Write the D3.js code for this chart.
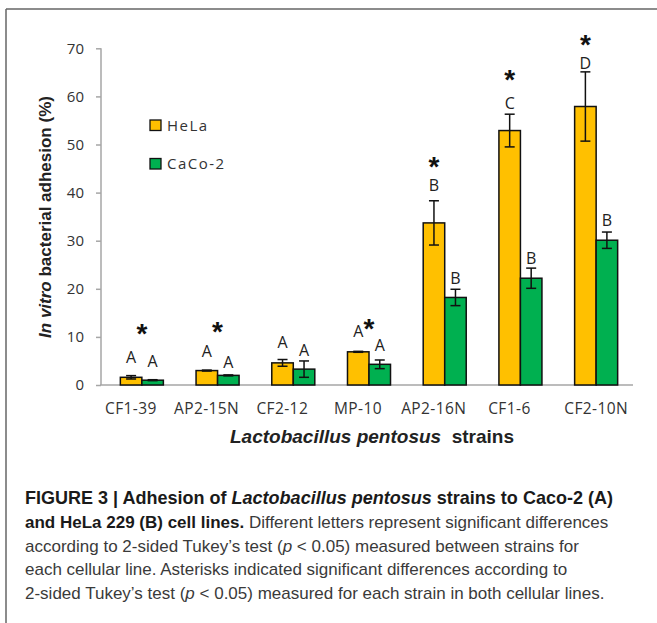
<!DOCTYPE html>
<html>
<head>
<meta charset="utf-8">
<script src="https://cdn.jsdelivr.net/npm/d3@7"></script>
<style>
body { margin: 0; background: #fff; }
svg { display: block; }
</style>
</head>
<body>
<script>
//chart data
var strains = ["CF1-39", "AP2-15N", "CF2-12", "MP-10", "AP2-16N", "CF1-6", "CF2-10N"];
var seriesNames = ["HeLa", "CaCo-2"];
var helaMean = [1.6, 3.0, 4.6, 6.9, 33.7, 52.9, 57.9];
var helaErr = [0.35, 0.1, 0.7, 0.1, 4.6, 3.4, 7.2];
var cacoMean = [1.0, 2.0, 3.3, 4.3, 18.2, 22.2, 30.1];
var cacoErr = [0.1, 0.1, 1.7, 0.9, 1.7, 2.1, 1.7];
var helaLetters = ["A", "A", "A", "A", "B", "C", "D"];
var cacoLetters = ["A", "A", "A", "A", "B", "B", "B"];
var helaLetterLevel = [5.7, 7.1, 8.8, 11.1, 41.6, 58.6, 66.9]; //letter centre, in % units
var cacoLetterLevel = [5.0, 4.7, 7.3, 8.3, 22.2, 26.3, 34.3];
var starLevel = [12.0, 12.5, null, 13.2, 46.8, 64.9, 72.1]; //asterisk centre, in % units
var starOver = ["pair", "pair", null, "pair", "HeLa", "HeLa", "HeLa"];
var yTicks = [0, 10, 20, 30, 40, 50, 60, 70];

(function () {
	var width = 657, height = 623;
	var colors = { "HeLa": "#FFC000", "CaCo-2": "#00B050" };
	var tickFont = "'Open Sans', sans-serif";
	var titleFont = "'Liberation Sans', Arial, sans-serif";

	var svg = d3.select("body").append("svg")
		.attr("width", width)
		.attr("height", height);

	//frame lines (top and left)
	svg.append("line").attr("x1", 6).attr("x2", width).attr("y1", 9).attr("y2", 9)
		.attr("stroke", "#666").attr("stroke-width", 1.5);
	svg.append("line").attr("x1", 6).attr("x2", 6).attr("y1", 9).attr("y2", height)
		.attr("stroke", "#666").attr("stroke-width", 1.5);

	//scales
	var y = d3.scaleLinear().domain([0, 70]).range([385, 48.3]);
	var x = d3.scaleBand().domain(strains).range([104, 634]).padding(0);
	var xs = d3.scaleBand().domain(seriesNames).range([0, x.bandwidth()]).paddingInner(0).paddingOuter(0.76);

	//y axis
	var yAxis = svg.append("g")
		.attr("transform", "translate(101,0)")
		.call(d3.axisLeft(y).tickValues(yTicks).tickSize(5).tickPadding(12));
	yAxis.select(".domain").attr("stroke", "#a6a6a6").attr("stroke-width", 1.5).attr("d", "M0,48.3V385");
	yAxis.selectAll(".tick line").attr("stroke", "#a6a6a6").attr("stroke-width", 1.5);
	yAxis.selectAll(".tick text")
		.attr("font-family", tickFont).attr("font-size", 15).attr("fill", "#333");

	//x axis baseline
	svg.append("line")
		.attr("x1", 100).attr("x2", 633)
		.attr("y1", y(0)).attr("y2", y(0))
		.attr("stroke", "#a6a6a6").attr("stroke-width", 1.5);

	//category labels (excel centred all but the last one a bit to the left)
	svg.selectAll(".cat")
		.data(strains)
		.enter()
		.append("text")
		.attr("class", "cat")
		.attr("x", function (d) { return x(d) + x.bandwidth() / 2; })
		.attr("dx", function (d, i) { return i < strains.length - 1 ? -11 : 0; })
		.attr("y", 414)
		.attr("text-anchor", "middle")
		.attr("font-family", tickFont)
		.attr("font-size", 15.5)
		.attr("letter-spacing", 0.4)
		.attr("fill", "#333")
		.text(function (d) { return d; });

	//build rows for bars
	var rows = [];
	strains.forEach(function (s, i) {
		rows.push({ strain: s, series: "HeLa", mean: helaMean[i], err: helaErr[i], letter: helaLetters[i], level: helaLetterLevel[i] });
		rows.push({ strain: s, series: "CaCo-2", mean: cacoMean[i], err: cacoErr[i], letter: cacoLetters[i], level: cacoLetterLevel[i] });
	});
	function barX(d) { return x(d.strain) + xs(d.series); }
	function barMid(d) { return barX(d) + xs.bandwidth() / 2; }

	svg.selectAll(".bar")
		.data(rows)
		.enter()
		.append("rect")
		.attr("class", "bar")
		.attr("x", barX)
		.attr("width", xs.bandwidth())
		.attr("y", function (d) { return y(d.mean); })
		.attr("height", function (d) { return y(0) - y(d.mean); })
		.attr("fill", function (d) { return colors[d.series]; })
		.attr("stroke", "#111")
		.attr("stroke-width", 1.5);

	//error bars
	var errG = svg.selectAll(".err")
		.data(rows)
		.enter()
		.append("g")
		.attr("class", "err")
		.attr("stroke", "#111")
		.attr("stroke-width", 1.5);
	errG.append("line")
		.attr("x1", barMid).attr("x2", barMid)
		.attr("y1", function (d) { return y(d.mean + d.err); })
		.attr("y2", function (d) { return y(d.mean - d.err); });
	errG.append("line")
		.attr("x1", function (d) { return barMid(d) - 5; })
		.attr("x2", function (d) { return barMid(d) + 5; })
		.attr("y1", function (d) { return y(d.mean + d.err); })
		.attr("y2", function (d) { return y(d.mean + d.err); });
	errG.append("line")
		.attr("x1", function (d) { return barMid(d) - 5; })
		.attr("x2", function (d) { return barMid(d) + 5; })
		.attr("y1", function (d) { return y(d.mean - d.err); })
		.attr("y2", function (d) { return y(d.mean - d.err); });

	//letters
	svg.selectAll(".letter")
		.data(rows)
		.enter()
		.append("text")
		.attr("class", "letter")
		.attr("x", barMid)
		.attr("y", function (d) { return y(d.level) + 5.8; })
		.attr("text-anchor", "middle")
		.attr("font-family", tickFont)
		.attr("font-size", 16)
		.attr("fill", "#222")
		.text(function (d) { return d.letter; });

	//asterisks
	var stars = strains.map(function (s, i) { return { strain: s, level: starLevel[i], over: starOver[i] }; })
		.filter(function (d) { return d.level !== null; });
	svg.selectAll(".star")
		.data(stars)
		.enter()
		.append("text")
		.attr("class", "star")
		.attr("x", function (d) {
			if (d.over === "HeLa") return x(d.strain) + xs("HeLa") + xs.bandwidth() / 2;
			return x(d.strain) + x.bandwidth() / 2;
		})
		.attr("y", function (d) { return y(d.level) + 16; })
		.attr("text-anchor", "middle")
		.attr("font-family", titleFont)
		.attr("font-weight", "bold")
		.attr("font-size", 28)
		.attr("fill", "#111")
		.text("*");

	//legend
	var legend = svg.selectAll(".legend")
		.data(seriesNames)
		.enter()
		.append("g")
		.attr("class", "legend")
		.attr("transform", function (d, i) { return "translate(150," + (120 + i * 38.5) + ")"; });
	legend.append("rect")
		.attr("width", 11).attr("height", 10.5)
		.attr("fill", function (d) { return colors[d]; })
		.attr("stroke", "#111").attr("stroke-width", 1.3);
	legend.append("text")
		.attr("x", 17).attr("y", 10.5)
		.attr("font-family", tickFont)
		.attr("font-size", 15)
		.attr("letter-spacing", 1.5)
		.attr("fill", "#333")
		.text(function (d) { return d; });

	//axis titles
	var yTitle = svg.append("text")
		.attr("transform", "translate(51,217) rotate(-90)")
		.attr("text-anchor", "middle")
		.attr("font-family", titleFont)
		.attr("font-weight", "bold")
		.attr("font-size", 17)
		.attr("fill", "#222");
	yTitle.append("tspan").attr("font-style", "italic").text("In vitro");
	yTitle.append("tspan").text(" bacterial adhesion (%)");

	var xTitle = svg.append("text")
		.attr("x", 372).attr("y", 443)
		.attr("text-anchor", "middle")
		.attr("font-family", titleFont)
		.attr("font-weight", "bold")
		.attr("font-size", 19)
		.attr("fill", "#222")
		.attr("xml:space", "preserve");
	xTitle.append("tspan").attr("font-style", "italic").text("Lactobacillus pentosus");
	xTitle.append("tspan").text("  strains");

	//caption
	var capLines = [
		[["FIGURE 3 | Adhesion of ", "b"], ["Lactobacillus pentosus", "bi"], [" strains to Caco-2 (A)", "b"]],
		[["and HeLa 229 (B) cell lines.", "b"], [" Different letters represent significant differences", "n"]],
		[["according to 2-sided Tukey\u2019s test (", "n"], ["p", "i"], [" < 0.05) measured between strains for", "n"]],
		[["each cellular line. Asterisks indicated significant differences according to", "n"]],
		[["2-sided Tukey\u2019s test (", "n"], ["p", "i"], [" < 0.05) measured for each strain in both cellular lines.", "n"]]
	];
	var cap = svg.append("g").attr("class", "caption");
	var capTexts = capLines.map(function (parts, i) {
		var t = cap.append("text")
			.attr("x", 25).attr("y", 504 + i * 23.8)
			.attr("font-family", titleFont)
			.attr("font-size", 16)
			.attr("fill", "#333")
			.attr("xml:space", "preserve");
		parts.forEach(function (p) {
			t.append("tspan")
				.attr("font-weight", p[1].indexOf("b") >= 0 ? "bold" : "normal")
				.attr("font-style", p[1].indexOf("i") >= 0 ? "italic" : "normal")
				.attr("fill", p[1].indexOf("b") >= 0 ? "#1a1a1a" : "#3a3a3a")
				.text(p[0]);
		});
		return t;
	});
	//fit caption size so the second line ends near the right edge like in the figure
	var w = capTexts[1].node().getComputedTextLength();
	var fs = Math.min(17, 16 * 619 / w);
	capTexts.forEach(function (t) { t.attr("font-size", fs); });
	//the bold first line runs a little wider in the figure
	var w0 = capTexts[0].node().getComputedTextLength();
	capTexts[0].attr("font-size", Math.min(fs * 1.06, fs * 600 / w0));
})();
</script>
</body>
</html>
